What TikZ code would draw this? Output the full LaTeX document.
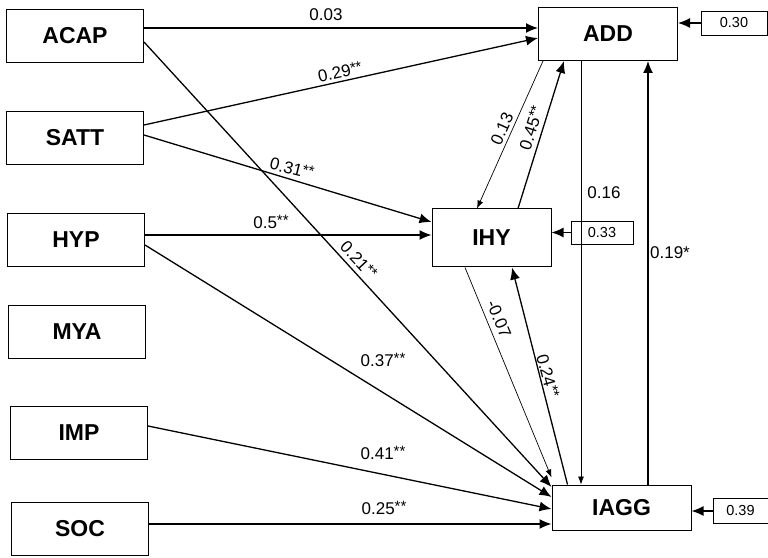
\documentclass[tikz,border=0pt]{standalone}
\usepackage{fontspec}
\setmainfont{Liberation Sans}
\usetikzlibrary{arrows.meta}

\newcommand{\sigtwo}{\raisebox{2.5pt}{\fontsize{15}{15}\selectfont **}}

\tikzset{
    var/.style={draw, line width=1pt, minimum width=137pt, minimum height=53pt,
        inner sep=0pt, font=\fontsize{23}{25}\selectfont\bfseries},
    res/.style={draw, line width=0.9pt, minimum width=62pt, minimum height=24pt,
        inner sep=0pt, font=\fontsize{14.5}{16}\selectfont},
    coef/.style={inner sep=1pt, font=\fontsize{17}{19}\selectfont},
    sig/.style={-{Latex[length=12pt,width=10pt]}, line width=1.3pt},
    ns/.style={-{Latex[length=8pt,width=6pt]}, line width=0.7pt}
}

\begin{document}
\begin{tikzpicture}[x=1pt, y=1pt]

    \useasboundingbox (0,0) rectangle (768,557);

    % 1. Predictors on the left
    \foreach \name/\xx/\yy in {ACAP/75/521, SATT/75/419, HYP/76/317,
                               MYA/77/225, IMP/79/124, SOC/80/28} {
        \node[var] (\name) at (\xx,\yy) {\name};
    }

    % 2. Outcomes and their residual boxes
    \node[var, minimum width=139pt] (ADD) at (608,523) {ADD};
    \node[var, minimum width=119pt, minimum height=58pt] (IHY) at (491.5,319) {IHY};
    \node[var, minimum width=139pt, minimum height=45pt] (IAGG) at (621.5,49.5) {IAGG};

    \node[res, minimum width=66pt] (rADD) at (734,534) {0.30};
    \node[res, minimum height=23pt] (rIHY) at (602,324.5) {0.33};
    \node[res, minimum width=55pt, minimum height=25pt] (rIAGG) at (740.5,46) {0.39};

    \draw[sig] (rADD.west) -- (rADD.west -| ADD.east);
    \draw[sig] (rIHY.west) -- (rIHY.west -| IHY.east);
    \draw[sig] (rIAGG.west) -- (rIAGG.west -| IAGG.east);

    % 3. Paths from the predictors
    \draw[sig] ([yshift=8pt]ACAP.east) -- ([yshift=8pt]ACAP.east -| ADD.west);
    \draw[sig] ([yshift=13pt]SATT.east) -- ([yshift=-4pt]ADD.west);
    \draw[sig] ([yshift=-6pt]ACAP.east) -- ([yshift=20.5pt]IAGG.west);
    \draw[sig] ([yshift=3pt]SATT.east) -- ([yshift=16pt]IHY.west);
    \draw[sig] ([yshift=5pt]HYP.east) -- ([yshift=5pt]HYP.east -| IHY.west);
    \draw[sig] ([yshift=-5pt]HYP.east) -- ([yshift=10.5pt]IAGG.west);
    \draw[sig] ([yshift=7pt]IMP.east) -- ([yshift=-1.5pt]IAGG.west);
    \draw[sig] ([yshift=5pt]SOC.east) -- ([yshift=5pt]SOC.east -| IAGG.west);

    % 4. Paths among the outcomes
    \draw[ns] ([xshift=5pt]ADD.south west) -- ([xshift=-14.5pt]IHY.north);
    \draw[sig] ([xshift=26.5pt]IHY.north) -- ([xshift=-44pt]ADD.south);
    \draw[ns] ([xshift=-27pt]ADD.south) -- ([xshift=-27pt]ADD.south |- IAGG.north);
    \draw[sig] ([xshift=40pt]ADD.south |- IAGG.north) -- ([xshift=40pt]ADD.south);
    \draw[ns] ([xshift=-26.5pt]IHY.south) -- ([yshift=7pt]IAGG.north west);
    \draw[sig] ([xshift=16pt]IAGG.north west) -- ([xshift=20.5pt]IHY.south);

    % 5. Coefficients
    \node[coef] (cAcAdd) at (326,542) {0.03};
    \node[coef, rotate=12] (cSaAdd) at (340,485) {0.29\sigtwo};
    \node[coef, rotate=-14] (cSaIhy) at (292,389) {0.31\sigtwo};
    \node[coef] (cHyIhy) at (271,335) {0.5\sigtwo};
    \node[coef, rotate=-47] (cAcIagg) at (359,297) {0.21\sigtwo};
    \node[coef] (cHyIagg) at (383,197) {0.37\sigtwo};
    \node[coef] (cImIagg) at (383,104) {0.41\sigtwo};
    \node[coef] (cSoIagg) at (384,49) {0.25\sigtwo};
    \node[coef, rotate=66] (cAddIhy) at (502,428) {0.13};
    \node[coef, rotate=72] (cIhyAdd) at (531,429) {0.45\sigtwo};
    \node[coef] (cAddIagg) at (604,364) {0.16};
    \node[coef] (cIaggAdd) at (670,304) {0.19*};
    \node[coef, rotate=-67] (cIhyIagg) at (499,238) {-0.07};
    \node[coef, rotate=-75] (cIaggIhy) at (548,181) {0.24\sigtwo};

\end{tikzpicture}
\end{document}
